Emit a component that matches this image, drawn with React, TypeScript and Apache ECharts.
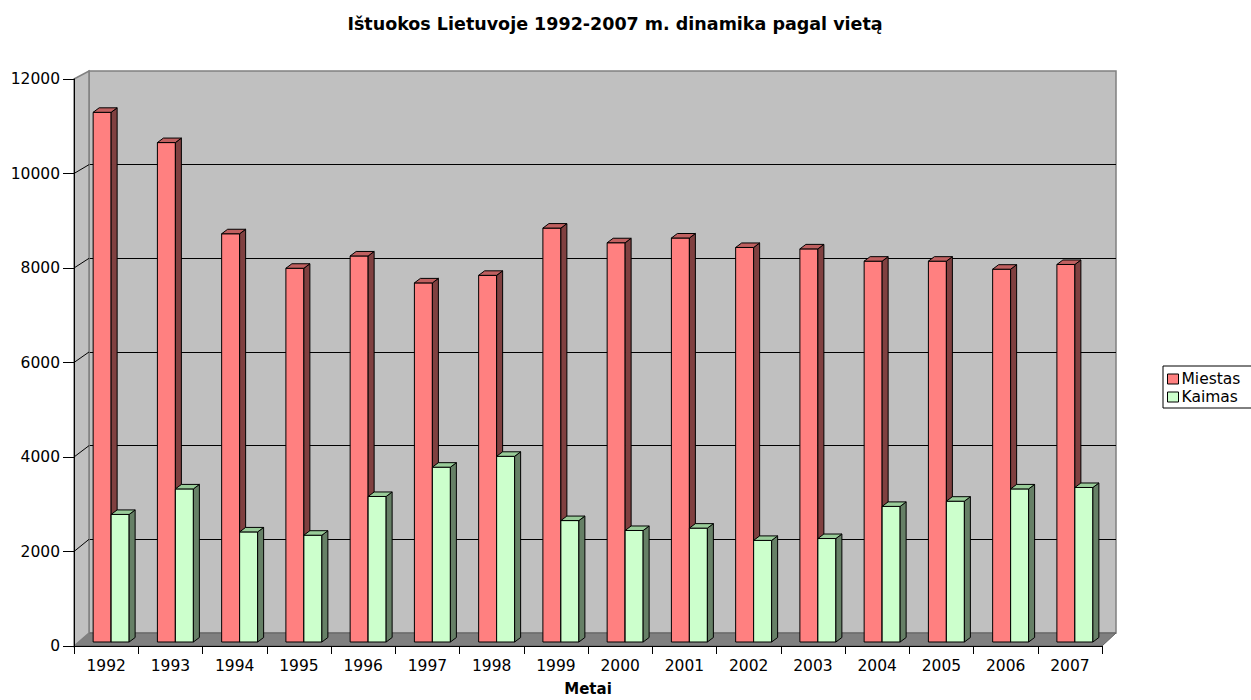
import React, { useEffect, useRef } from "react";
import * as echarts from "echarts";

const years = ["1992", "1993", "1994", "1995", "1996", "1997", "1998", "1999", "2000", "2001", "2002", "2003", "2004", "2005", "2006", "2007"];
const miestas = [11210, 10570, 8640, 7910, 8170, 7600, 7760, 8760, 8450, 8550, 8350, 8320, 8060, 8060, 7890, 7990];
const kaimas = [2700, 3240, 2330, 2260, 3080, 3700, 3930, 2570, 2360, 2410, 2150, 2190, 2870, 2980, 3240, 3270];
const yTicks = [0, 2000, 4000, 6000, 8000, 10000, 12000];
const seriesNames = ["Miestas", "Kaimas"];
const titleText = "Ištuokos Lietuvoje 1992-2007 m. dinamika pagal vietą";
const xName = "Metai";

const FONT = "'DejaVu Sans', sans-serif";
const Y_MAX = 12000;
const W = 1251, H = 700;
// front plane
const FL = 74, FT = 79, FW = 1028, FH = 567;
// back wall
const BL = 89, BT = 71, BW = 1027, BH = 562;

const yF = (v: number) => FT + FH - (v / Y_MAX) * FH;
const yB = (v: number) => BT + BH - (v / Y_MAX) * BH;

const faces = [
  { front: "#FF8080", side: "#804040", top: "#C06060" },
  { front: "#CCFFCC", side: "#668066", top: "#99CC99" },
];

function makeRender(si: number) {
  return (params: any, api: any) => {
    const idx = api.value(0);
    const v = api.value(1);
    const top = api.coord([idx, v]);
    const base = api.coord([idx, 0]);
    const band = api.size([1, 0])[0];
    const w = band * 0.28;
    const shiftX = band * 0.078;
    const shiftY = -4;
    const dx = 6, dy = -4.5;
    const x0 = top[0] + shiftX + (si === 0 ? -w : 0);
    const yT = top[1] + shiftY;
    const yBot = base[1] + shiftY;
    const c = faces[si];
    const ls = { stroke: "#000", lineWidth: 1 };
    return {
      type: "group",
      children: [
        { type: "rect", shape: { x: x0, y: yT, width: w, height: yBot - yT }, style: { fill: c.front, ...ls } },
        {
          type: "polygon",
          shape: { points: [[x0 + w, yT], [x0 + w + dx, yT + dy], [x0 + w + dx, yBot + dy], [x0 + w, yBot]] },
          style: { fill: c.side, ...ls },
        },
        {
          type: "polygon",
          shape: { points: [[x0, yT], [x0 + dx, yT + dy], [x0 + w + dx, yT + dy], [x0 + w, yT]] },
          style: { fill: c.top, ...ls },
        },
      ],
    };
  };
}

export default function App() {
  const ref = useRef<HTMLDivElement>(null);
  useEffect(() => {
    if (!ref.current) return;
    const chart = echarts.init(ref.current, undefined, { renderer: "svg" });
    const graphics: any[] = [
      {
        type: "polygon",
        z: 1,
        shape: { points: [[FL, FT + FH], [FL + FW, FT + FH], [BL + BW, BT + BH], [BL, BT + BH]] },
        style: { fill: "#808080", stroke: "#606060", lineWidth: 1 },
      },
      {
        type: "polygon",
        z: 1,
        shape: { points: [[FL, FT], [BL, BT], [BL, BT + BH], [FL, FT + FH]] },
        style: { fill: "#C0C0C0", stroke: "#808080", lineWidth: 1.5 },
      },
    ];
    yTicks.forEach((v) => {
      if (v === 0 || v === Y_MAX) return;
      graphics.push({
        type: "line",
        z: 2,
        shape: { x1: FL, y1: yF(v), x2: BL, y2: yB(v) },
        style: { stroke: "#000", lineWidth: 1 },
      });
    });
    const option: any = {
      animation: false,
      backgroundColor: "#fff",
      textStyle: { fontFamily: FONT },
      title: {
        text: titleText,
        left: 610,
        textAlign: "center",
        top: 10,
        textStyle: { fontFamily: FONT, fontSize: 17.5, fontWeight: "bold", color: "#000" },
      },
      legend: {
        data: seriesNames,
        orient: "vertical",
        left: 1163,
        top: 366,
        icon: "rect",
        itemWidth: 11,
        itemHeight: 10,
        itemGap: 2,
        padding: [5, 20, 3, 4],
        borderColor: "#000",
        borderWidth: 1,
        backgroundColor: "#fff",
        itemStyle: { borderColor: "#000", borderWidth: 1 },
        textStyle: { fontFamily: FONT, fontSize: 15.5, color: "#000", padding: [0, 0, 0, -2] },
      },
      graphic: graphics,
      grid: [
        {
          left: BL, top: BT, right: W - BL - BW, bottom: H - BT - BH,
          outerBoundsMode: "none", containLabel: false,
          show: true, backgroundColor: "#C0C0C0", borderColor: "#808080", borderWidth: 1.5,
        },
        {
          left: FL, top: FT, right: W - FL - FW, bottom: H - FT - FH,
          outerBoundsMode: "none", containLabel: false,
        },
      ],
      xAxis: [
        { gridIndex: 0, type: "category", data: years, show: false },
        {
          gridIndex: 1,
          type: "category",
          data: years,
          z: 6,
          axisLine: { lineStyle: { color: "#000", width: 1 } },
          axisTick: { show: true, interval: 0, length: 8, lineStyle: { color: "#000" } },
          axisLabel: { interval: 0, fontSize: 15.5, color: "#000", fontFamily: FONT, margin: 12 },
          name: xName,
          nameLocation: "middle",
          nameGap: 35,
          nameTextStyle: { fontFamily: FONT, fontSize: 15, fontWeight: "bold", color: "#000" },
        },
      ],
      yAxis: [
        {
          gridIndex: 0,
          type: "value",
          min: 0,
          max: Y_MAX,
          interval: 2000,
          axisLabel: { show: false },
          axisLine: { show: false },
          axisTick: { show: false },
          splitLine: { show: true, showMaxLine: false, lineStyle: { color: "#000", width: 1 } },
        },
        {
          gridIndex: 1,
          type: "value",
          min: 0,
          max: Y_MAX,
          interval: 2000,
          z: 6,
          axisLine: { show: true, lineStyle: { color: "#000", width: 1 } },
          axisTick: { show: true, length: 11, lineStyle: { color: "#000" } },
          axisLabel: { fontSize: 15.5, color: "#000", fontFamily: FONT, margin: 14, formatter: (v: number) => String(v) },
          splitLine: { show: false },
        },
      ],
      series: seriesNames.map((name, si) => ({
        name,
        type: "custom",
        xAxisIndex: 1,
        yAxisIndex: 1,
        z: 4,
        clip: false,
        itemStyle: { color: faces[si].front, borderColor: "#000", borderWidth: 1 },
        renderItem: makeRender(si),
        encode: { x: 0, y: 1 },
        data: (si === 0 ? miestas : kaimas).map((v, i) => [i, v]),
      })),
    };
    chart.setOption(option);
    return () => chart.dispose();
  }, []);
  return <div ref={ref} style={{ position: "fixed", left: 0, top: 0, width: W, height: H }} />;
}
